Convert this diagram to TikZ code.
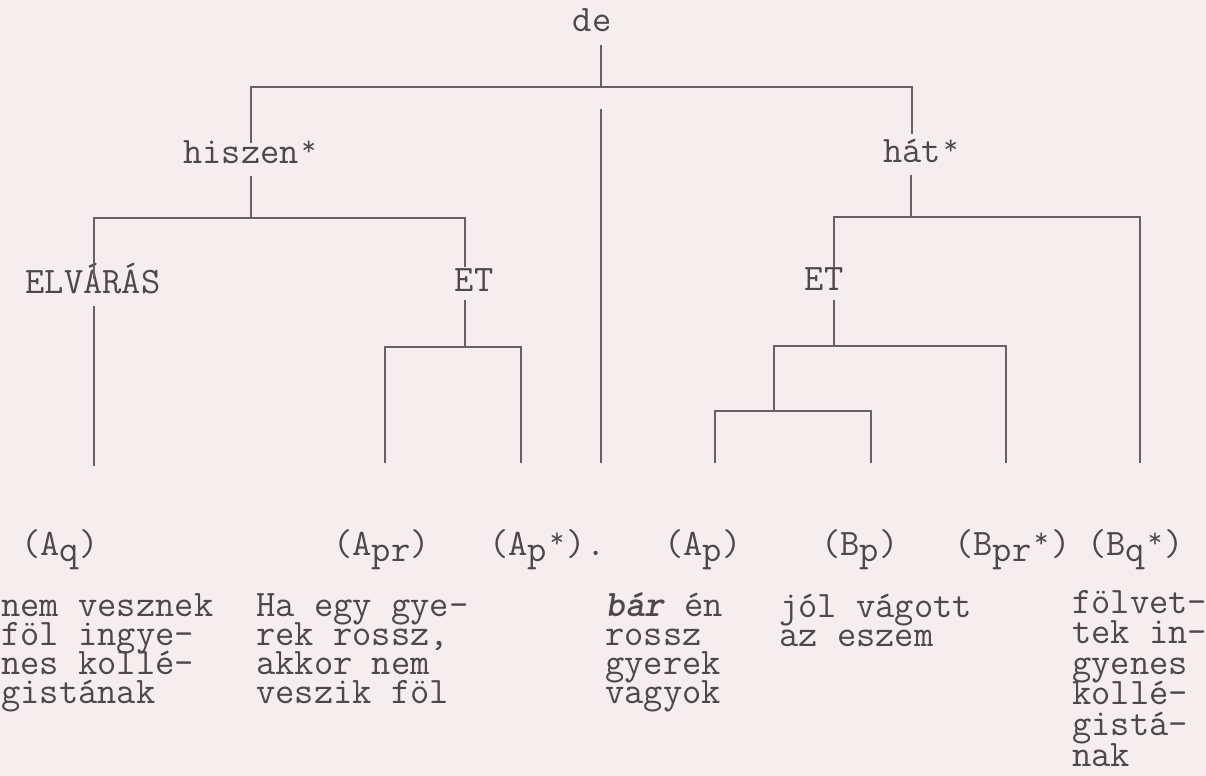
\documentclass[tikz,border=0pt]{standalone}
\usepackage{xcolor}
\definecolor{paper}{RGB}{246,237,239}
\definecolor{ink}{RGB}{78,72,74}
\definecolor{rule}{RGB}{104,97,99}
\usepackage{tikz}
\newcommand{\lowidx}[1]{\raisebox{-3pt}{#1}}
\newcommand{\starmark}{\makebox[0.525em]{\raisebox{0.2em}{\fontsize{14}{14}\selectfont*}}}
\lineskiplimit=-50pt

\begin{document}
\begin{tikzpicture}[
  x=0.5pt, y=-0.5pt,
  tw/.style={font=\ttfamily\fontsize{18.7}{15.25}\selectfont, text=ink, inner sep=0pt},
  treelab/.style={tw, anchor=base, text height=11pt, text depth=6.5pt},
  leaflab/.style={tw, anchor=base west},
  gloss/.style={tw, anchor=base west, align=left, font=\ttfamily\fontsize{18.7}{#1}\selectfont},
  gloss/.default=14.35pt,
  branch/.style={draw=rule, line width=0.65pt}
]
\fill[paper] (0,0) rectangle (1206,776);
\useasboundingbox (0,0) rectangle (1206,776);

% labels inside the tree
\node[treelab] (de) at (592,32) {de};
\node[treelab, text height=10pt] (hiszen) at (251,163) {hiszen\starmark};
\node[treelab, text height=14pt] (hat) at (922,162) {hát\starmark};
\node[treelab, text height=7pt] (elvaras) at (93,293) {ELVÁRÁS};
\node[treelab, text height=12pt, text depth=4.5pt] (etL) at (474,291) {ET};
\node[treelab, text height=11.5pt, text depth=5pt] (etR) at (824,290) {ET};

% leaf labels
\node[leaflab] (aq) at (21,555) {(A\lowidx{q})};
\node[leaflab] (apr) at (333,555) {(A\lowidx{pr})};
\node[leaflab] (apstar) at (489,555) {(A\lowidx{p}\starmark).};
\node[leaflab] (ap) at (664,555) {(A\lowidx{p})};
\node[leaflab] (bp) at (821,555) {(B\lowidx{p})};
\node[leaflab] (bprstar) at (954,555) {(B\lowidx{pr}\starmark)};
\node[leaflab] (bqstar) at (1087,555) {(B\lowidx{q}\starmark)};

% glosses (base = last line)
\node[gloss] (g1) at (1,703) {nem vesznek\\föl ingye-\\nes kollé-\\gistának};
\node[gloss] (g2) at (256,703) {Ha egy gye-\\rek rossz,\\akkor nem\\veszik föl};
\node[gloss] (g3) at (605,703) {\textbf{\textit{bár}} én\\rossz\\gyerek\\vagyok};
\node[gloss] (g4) at (779,646) {jól vágott\\az eszem};
\node[gloss=15.3pt] (g5) at (1072,766) {fölvet-\\tek in-\\gyenes\\kollé-\\gistá-\\nak};

% junctions and leaf ends
\coordinate (b0) at (601,87);
\coordinate (bL) at (251,87);
\coordinate (bR) at (912,87);
\coordinate (c0) at (601,109);
\coordinate (c1) at (601,463);
\coordinate (h0) at (251,218);
\coordinate (hL) at (94,218);
\coordinate (hR) at (465,218);
\coordinate (l1) at (94,466);
\coordinate (e0) at (465,347);
\coordinate (eL) at (385,347);
\coordinate (eR) at (521,347);
\coordinate (l2) at (385,463);
\coordinate (l3) at (521,463);
\coordinate (t0) at (911,217);
\coordinate (tL) at (834,217);
\coordinate (tR) at (1140,217);
\coordinate (r0) at (834,346);
\coordinate (rL) at (774,346);
\coordinate (rR) at (1006,346);
\coordinate (s0) at (774,411);
\coordinate (sL) at (715,411);
\coordinate (sR) at (871,411);
\coordinate (l4) at (715,463);
\coordinate (l5) at (871,463);
\coordinate (l6) at (1006,463);
\coordinate (l7) at (1140,463);

% branches
\draw[branch] (de.south -| b0) -- (b0);
\draw[branch] (hiszen.north) -- (bL) -- (bR) -- (bR |- hat.north);
\draw[branch] (c0) -- (c1);
\draw[branch] (hiszen.south) -- (h0);
\draw[branch] (elvaras.north -| hL) -- (hL) -- (hR) -- (hR |- etL.north);
\draw[branch] (elvaras.south -| hL) -- (l1);
\draw[branch] (etL.south -| e0) -- (e0);
\draw[branch] (l2) -- (eL) -- (eR) -- (l3);
\draw[branch] (hat.south -| t0) -- (t0);
\draw[branch] (etR.north -| tL) -- (tL) -- (tR) -- (l7);
\draw[branch] (etR.south -| r0) -- (r0);
\draw[branch] (s0) -- (rL) -- (rR) -- (l6);
\draw[branch] (l4) -- (sL) -- (sR) -- (l5);
\end{tikzpicture}
\end{document}
